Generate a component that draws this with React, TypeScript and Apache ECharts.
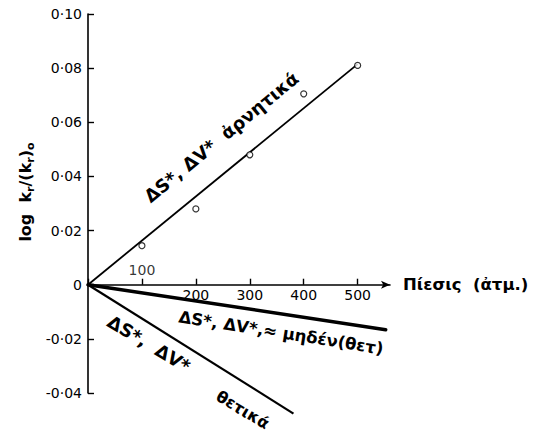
import React, { useEffect, useRef } from "react";
import * as echarts from "echarts";

// Tick values
const pressureTicks = [100, 200, 300, 400, 500];
const hiddenPressureLabels = [0, 100];
const aboveAxisTick = [100];

// Axis extents
const yMin = -0.04;
const yMax = 0.1;
const xMax = 560;

// Observed points (ΔS*, ΔV* negative)
const obsPressure = [100, 200, 300, 400, 500];
const obsLogK = [0.0144, 0.028, 0.048, 0.0705, 0.081];

// Lines: [pressure, log k]
const negativeLine = [
  [0, 0],
  [500, 0.0815],
];
const zeroLine = [
  [0, 0],
  [552, -0.0166],
];
const positiveLine = [
  [0, 0],
  [381, -0.0476],
];

// Annotations anchored in data coordinates
const annotationTexts = [
  "ΔS*, ΔV*  ἀρνητικά",
  "ΔS*, ΔV*,≈ μηδέν(θετ)",
  "ΔS*,  ΔV*",
  "θετικά",
];
const annotationAt = [
  [247, 0.0545],
  [358, -0.0178],
  [113, -0.0218],
  [287, -0.0462],
];
const annotationAngle = [39.4, -9, -31, -31];
const annotationSize = [18, 16.5, 18, 16];

const FONT = "DejaVu Sans";
const GRID_H = 379;

function fmtY(v: number): string {
  if (Math.abs(v) < 1e-9) return "0";
  const s = Math.abs(v).toFixed(2).replace(".", "·");
  return (v < 0 ? "-" : "") + s;
}

export default function App() {
  const ref = useRef<HTMLDivElement>(null);

  useEffect(() => {
    if (!ref.current) return;
    const chart = echarts.init(ref.current, null, { renderer: "svg" });
    const zeroOffset = -(GRID_H * (0 - yMin)) / (yMax - yMin);
    const option: any = {
      animation: false,
      backgroundColor: "#ffffff",
      grid: {
        left: 88,
        top: 14,
        width: 302,
        height: GRID_H,
        containLabel: false,
        outerBoundsMode: "none",
      },
      xAxis: {
        type: "value",
        position: "bottom",
        offset: zeroOffset,
        min: 0,
        max: xMax,
        interval: 100,
        name: "Πίεσις  (ἀτμ.)",
        nameLocation: "end",
        nameGap: 13,
        nameTextStyle: {
          color: "#000",
          fontFamily: FONT,
          fontSize: 16.5,
          fontWeight: "bold",
        },
        axisLine: {
          onZero: false,
          symbol: ["none", "arrow"],
          symbolSize: [6, 9],
          lineStyle: { color: "#000", width: 1.6 },
        },
        axisTick: {
          show: true,
          inside: true,
          length: 6,
          interval: (idx: number, v: any) => pressureTicks.indexOf(Number(v)) >= 0,
          lineStyle: { color: "#000", width: 1.4 },
        },
        axisLabel: {
          margin: 3,
          color: "#000",
          fontFamily: FONT,
          fontSize: 14,
          showMaxLabel: false,
          formatter: (v: number) =>
            hiddenPressureLabels.indexOf(v) >= 0 || pressureTicks.indexOf(v) < 0 ? "" : String(v),
        },
        splitLine: { show: false },
      },
      yAxis: {
        type: "value",
        min: yMin,
        max: yMax,
        interval: 0.02,
        axisLine: {
          show: true,
          onZero: false,
          lineStyle: { color: "#000", width: 1.6 },
        },
        axisTick: {
          show: true,
          inside: true,
          length: 6,
          lineStyle: { color: "#000", width: 1.4 },
        },
        axisLabel: {
          margin: 6,
          color: "#000",
          fontFamily: FONT,
          fontSize: 14,
          formatter: (v: number) => fmtY(v),
        },
        splitLine: { show: false },
      },
      series: [
        {
          type: "line",
          data: negativeLine,
          symbol: "none",
          lineStyle: { color: "#000", width: 1.8 },
          z: 3,
        },
        {
          type: "scatter",
          data: obsPressure.map((p, i) => [p, obsLogK[i]]),
          symbol: "circle",
          symbolSize: 6,
          itemStyle: { color: "#fff", borderColor: "#000", borderWidth: 1.2 },
          z: 4,
        },
        {
          type: "line",
          data: zeroLine,
          symbol: "none",
          clip: false,
          lineStyle: { color: "#000", width: 3.5, cap: "round" },
          z: 3,
        },
        {
          type: "line",
          data: positiveLine,
          symbol: "none",
          clip: false,
          lineStyle: { color: "#000", width: 2.2 },
          z: 3,
        },
        {
          type: "scatter",
          data: aboveAxisTick.map((p) => [p, 0]),
          symbolSize: 0,
          label: {
            show: true,
            position: "top",
            distance: 8,
            formatter: (p: any) => String(p.value[0]),
            color: "#000",
            fontFamily: FONT,
            fontSize: 14,
          },
          z: 5,
        },
      ],
    };
    chart.setOption(option);

    const graphics: any[] = annotationTexts.map((t, i) => {
      const [px, py] = chart.convertToPixel({ gridIndex: 0 }, annotationAt[i]) as number[];
      return {
        type: "text",
        x: px,
        y: py,
        rotation: (annotationAngle[i] * Math.PI) / 180,
        z: 10,
        style: {
          text: t,
          fill: "#000",
          fontFamily: FONT,
          fontSize: annotationSize[i],
          fontWeight: "bold",
          align: "center",
          verticalAlign: "middle",
        },
      };
    });
    graphics.push({
      type: "text",
      x: 25,
      y: 192,
      rotation: Math.PI / 2,
      z: 10,
      style: {
        text: "{a|log  k}{s|r}{a|/(k}{s|r}{a|)}{s|o}",
        align: "center",
        verticalAlign: "middle",
        fill: "#000",
        rich: {
          a: {
            fontFamily: FONT,
            fontSize: 16,
            fontWeight: "bold",
            color: "#000",
            lineHeight: 22,
            verticalAlign: "middle",
          },
          s: {
            fontFamily: FONT,
            fontSize: 11,
            fontWeight: "bold",
            color: "#000",
            lineHeight: 14,
            verticalAlign: "bottom",
          },
        },
      },
    });
    chart.setOption({ graphic: graphics });

    return () => chart.dispose();
  }, []);

  return (
    <div
      ref={ref}
      style={{ position: "fixed", left: 0, top: 0, width: 541, height: 432 }}
    />
  );
}
